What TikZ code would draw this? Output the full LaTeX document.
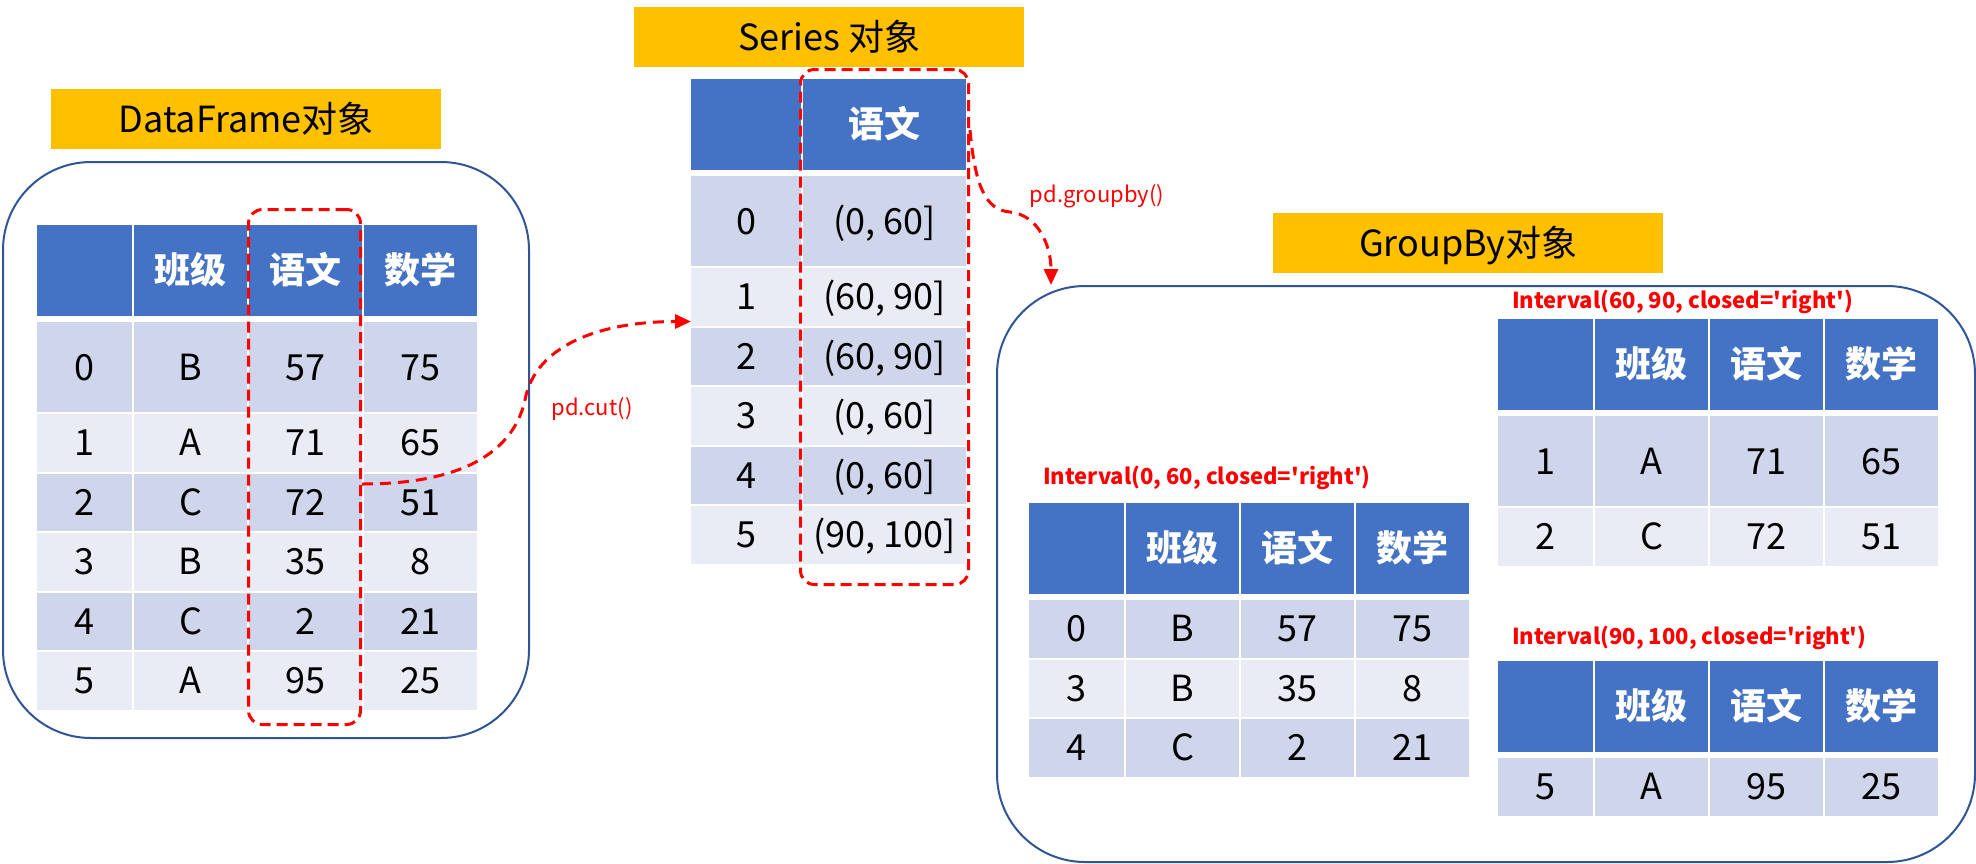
\documentclass[tikz,border=0pt]{standalone}
\usepackage{fontspec}
\setmainfont{Noto Sans CJK SC}
\usetikzlibrary{matrix, arrows.meta, positioning}

\definecolor{hdrblue}{HTML}{4472C4}
\definecolor{rowdark}{HTML}{CFD5EA}
\definecolor{rowlight}{HTML}{E9EBF5}
\definecolor{tagorange}{HTML}{FFC000}
\definecolor{frameblue}{HTML}{2F5597}

\tikzset{
  tag/.style={fill=tagorange, inner sep=0pt, minimum width=390pt, minimum height=60pt,
    text height=32pt, text depth=6pt, font=\fontsize{36}{40}\selectfont},
  objframe/.style={draw=frameblue, line width=2pt, rounded corners=88pt, inner sep=0pt},
  selbox/.style={draw=red, line width=3pt, dash pattern=on 11pt off 6pt, rounded corners=14pt, inner sep=0pt},
  oparrow/.style={red, line width=3pt, dash pattern=on 11pt off 7pt, -{Triangle[length=16pt,width=14pt]}},
  opname/.style={text=red, font=\fontsize{22}{26}\selectfont},
  ivname/.style={text=red, anchor=west, inner sep=0pt, font=\bfseries\fontsize{22}{26}\selectfont},
  tbl/.style={matrix of nodes, nodes in empty cells, inner sep=0pt, outer sep=0pt,
    column sep=2pt, row sep=2pt, anchor=north west,
    nodes={fill=rowlight, inner sep=0pt, anchor=center, minimum width=113pt, minimum height=57.5pt,
      text height=32pt, text depth=6pt, font=\fontsize{36}{40}\selectfont},
    column 1/.style={nodes={minimum width=95pt}},
    every even row/.style={nodes={fill=rowdark}},
    row 1/.style={nodes={fill=hdrblue, text=white, minimum height=91pt, font=\bfseries\fontsize{36}{40}\selectfont}}},
  tallrow/.style={row 2/.style={nodes={minimum height=90pt}}}
}

\begin{document}
\begin{tikzpicture}[x=1pt, y=-1pt]
\useasboundingbox (0,0) rectangle (1976,863);

% DataFrame
\node[tag, anchor=north west] (dftag) at (51,89) {DataFrame对象};
\node[objframe, anchor=north west, minimum width=526pt, minimum height=576pt] (dfframe) at (2,161) {};
\matrix (df) [tbl, tallrow] at (37,225) {
    & 班级 & 语文 & 数学 \\[4pt]
  0 & B & 57 & 75 \\
  1 & A & 71 & 65 \\
  2 & C & 72 & 51 \\
  3 & B & 35 & 8 \\
  4 & C & 2 & 21 \\
  5 & A & 95 & 25 \\
};
\node[selbox, anchor=north west, minimum width=112pt, minimum height=515pt] (dfsel) at (247,208) {};

% Series
\node[tag, anchor=north west] (sertag) at (634,7) {Series 对象};
\matrix (ser) [tbl, tallrow, column 1/.style={nodes={minimum width=110pt}},
  column 2/.style={nodes={minimum width=162.5pt}}] at (691,79) {
    & 语文 \\[4pt]
  0 & (0, 60] \\
  1 & (60, 90] \\
  2 & (60, 90] \\
  3 & (0, 60] \\
  4 & (0, 60] \\
  5 & (90, 100] \\
};
\node[selbox, anchor=north west, minimum width=168pt, minimum height=515pt] (sersel) at (799,68) {};

% GroupBy
\node[tag, anchor=north west] (gbtag) at (1273,213) {GroupBy对象};
\node[objframe, anchor=north west, minimum width=978pt, minimum height=576pt] (gbframe) at (996,285) {};

\node[ivname] (ivA) at (1043,478) {Interval(0, 60, closed=\textquotesingle right\textquotesingle)};
\matrix (gbA) [tbl] at (1029,503) {
    & 班级 & 语文 & 数学 \\[4pt]
  0 & B & 57 & 75 \\
  3 & B & 35 & 8 \\
  4 & C & 2 & 21 \\
};

\node[ivname] (ivB) at (1512,302) {Interval(60, 90, closed=\textquotesingle right\textquotesingle)};
\matrix (gbB) [tbl, tallrow] at (1498,319) {
    & 班级 & 语文 & 数学 \\[4pt]
  1 & A & 71 & 65 \\
  2 & C & 72 & 51 \\
};

\node[ivname] (ivC) at (1512,638) {Interval(90, 100, closed=\textquotesingle right\textquotesingle)};
\matrix (gbC) [tbl] at (1498,661) {
    & 班级 & 语文 & 数学 \\[4pt]
  5 & A & 95 & 25 \\
};

% operations
\coordinate (cutbend) at (525,400);
\draw[oparrow] ([yshift=-17pt]dfsel.east) .. controls +(111,0) and +(-10,45) .. (cutbend)
  .. controls +(10,-55) and +(-90,0) .. ([yshift=4pt]ser-3-1.south west);
\node[opname] (cutlbl) at (592,409) {pd.cut()};

\coordinate (gbbend) at (1010,212);
\draw[oparrow] ([yshift=-62pt]sersel.north east) .. controls +(5,55) and +(-25,-2) .. (gbbend)
  .. controls +(28,3) and +(0,-40) .. ([xshift=55pt]gbframe.north west);
\node[opname] (gblbl) at (1097,196) {pd.groupby()};
\end{tikzpicture}
\end{document}
